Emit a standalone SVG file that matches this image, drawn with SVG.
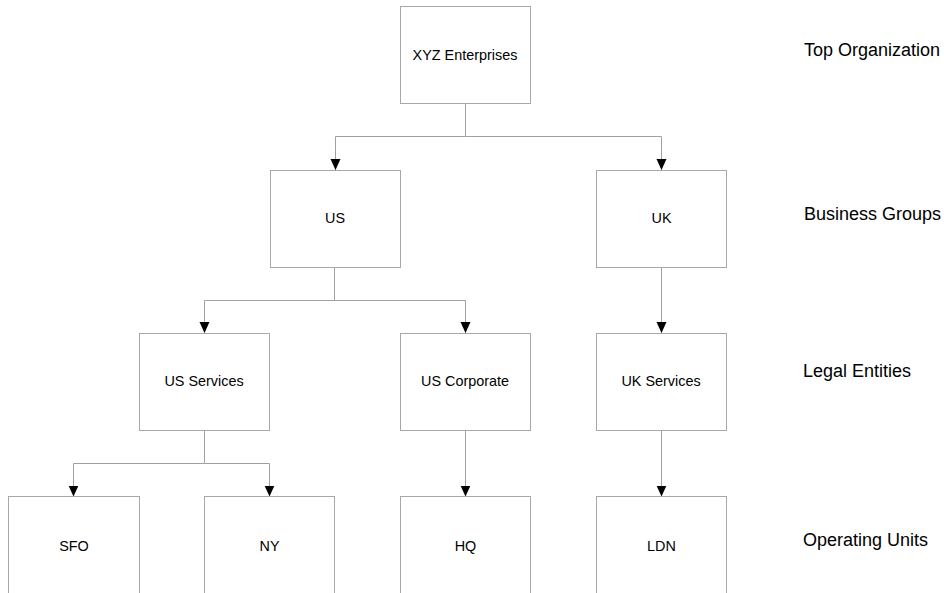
<svg xmlns="http://www.w3.org/2000/svg" width="944" height="593" viewBox="0 0 944 593">
<style>
.box{fill:#fff;stroke:#a8a8a8;stroke-width:1}
.t{font-family:"Liberation Sans",Arial,sans-serif;font-size:14.4px;fill:#000;text-anchor:middle}
.lvl{font-family:"Liberation Sans",Arial,sans-serif;font-size:18px;fill:#000}
.c{fill:none;stroke:#a0a0a0;stroke-width:1}
</style>
<defs>
<marker id="ah" markerWidth="11" markerHeight="11" refX="11" refY="5.5" orient="auto" markerUnits="userSpaceOnUse">
<path d="M0,0.5 L11,5.5 L0,10.5 Z" fill="#000"/>
</marker>
</defs>
<rect width="944" height="593" fill="#fff"/>
<g id="connectors">
<path class="c" d="M465.5,104 V136.5 H335.5 V170" marker-end="url(#ah)"/>
<path class="c" d="M465.5,136.5 H661.5 V170" marker-end="url(#ah)"/>
<path class="c" d="M334.5,267 V300.5 H204.5 V333" marker-end="url(#ah)"/>
<path class="c" d="M334.5,300.5 H465.5 V333" marker-end="url(#ah)"/>
<path class="c" d="M661.5,267 V333" marker-end="url(#ah)"/>
<path class="c" d="M204.5,430 V463.5 H73.5 V496.5" marker-end="url(#ah)"/>
<path class="c" d="M204.5,463.5 H269.5 V496.5" marker-end="url(#ah)"/>
<path class="c" d="M465.5,430 V496.5" marker-end="url(#ah)"/>
<path class="c" d="M661.5,430 V496.5" marker-end="url(#ah)"/>
</g>
<g id="xyz"><rect class="box" x="400.5" y="6.5" width="130" height="97"/><text class="t" x="465" y="60">XYZ Enterprises</text></g>
<g id="us"><rect class="box" x="270.5" y="170.5" width="130" height="97"/><text class="t" x="335" y="223">US</text></g>
<g id="uk"><rect class="box" x="596.5" y="170.5" width="130" height="97"/><text class="t" x="661.5" y="223">UK</text></g>
<g id="us-services"><rect class="box" x="139.5" y="333.5" width="130" height="97"/><text class="t" x="204" y="386">US Services</text></g>
<g id="us-corporate"><rect class="box" x="400.5" y="333.5" width="130" height="97"/><text class="t" x="465" y="386">US Corporate</text></g>
<g id="uk-services"><rect class="box" x="596.5" y="333.5" width="130" height="97"/><text class="t" x="661" y="386">UK Services</text></g>
<g id="sfo"><rect class="box" x="8.5" y="496.5" width="131" height="100"/><text class="t" x="74" y="551">SFO</text></g>
<g id="ny"><rect class="box" x="204.5" y="496.5" width="130" height="100"/><text class="t" x="269.5" y="551">NY</text></g>
<g id="hq"><rect class="box" x="400.5" y="496.5" width="130" height="100"/><text class="t" x="465.5" y="551">HQ</text></g>
<g id="ldn"><rect class="box" x="596.5" y="496.5" width="130" height="100"/><text class="t" x="661.5" y="551">LDN</text></g>
<g id="levels">
<text class="lvl" x="804" y="56">Top Organization</text>
<text class="lvl" x="804" y="220">Business Groups</text>
<text class="lvl" x="803" y="377">Legal Entities</text>
<text class="lvl" x="803" y="546">Operating Units</text>
</g>
</svg>
